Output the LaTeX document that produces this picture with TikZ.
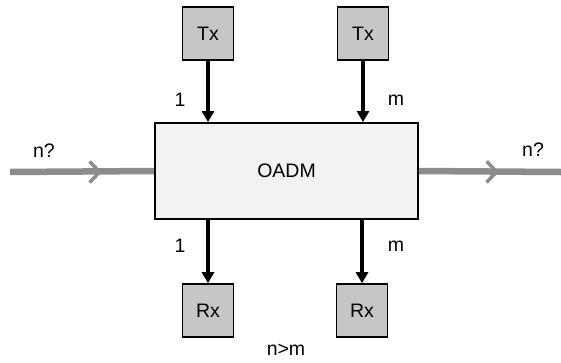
\documentclass[tikz,border=0pt]{standalone}
\usepackage{fontspec}
\setmainfont{Liberation Sans}
\usetikzlibrary{arrows.meta,positioning,calc}

\begin{document}
\begin{tikzpicture}[x=1pt,y=-1pt,font=\fontsize{19.5}{22}\selectfont,
    unit/.style={draw=black, line width=1.6pt, fill=gray!45, minimum width=51pt, minimum height=53pt, inner sep=0pt},
    oadmbox/.style={draw=black, line width=1.8pt, fill=gray!10, minimum width=263pt, minimum height=96pt, inner sep=0pt},
    drop/.style={line width=3.2pt, -{Triangle[length=11pt,width=12pt]}},
    feed/.style={draw=gray!90, line width=6.5pt},
    feedtip/.style={draw=gray!90, line width=3pt, -{Straight Barb[length=10pt,width=21pt,line width=3.5pt]}}]
  \useasboundingbox (0,0) rectangle (561,362);

  % wavelength feeds
  \coordinate (in) at (10,172);
  \coordinate (out) at (561,172);
  \node[oadmbox] (oadm) at (286.5,171) {OADM};
  \draw[feed] (in) -- (oadm.west);
  \draw[feed] (oadm.east) -- (out);
  \draw[feedtip] (in) -- (102,172);
  \draw[feedtip] (oadm.east) -- (499,172);
  \node (nin) at (44,151) {n?};
  \node (nout) at (533,150) {n?};

  % add side
  \node[unit] (tx1) at (208,33.5) {Tx};
  \node[unit] (txm) at (363,33.5) {Tx};
  \draw[drop] (tx1.south) -- (tx1.south |- oadm.north);
  \draw[drop] (txm.south) -- (txm.south |- oadm.north);
  \node (l1) at (180,100) {1};
  \node (lm) at (396,100) {m};

  % drop side
  \node[unit] (rx1) at (208,310.5) {Rx};
  \node[unit] (rxm) at (362,310.5) {Rx};
  \draw[drop] (rx1.north |- oadm.south) -- (rx1.north);
  \draw[drop] (rxm.north |- oadm.south) -- (rxm.north);
  \node (b1) at (180,246) {1};
  \node (bm) at (396,246) {m};

  \node (cond) at (286,350) {n>m};
\end{tikzpicture}
\end{document}
